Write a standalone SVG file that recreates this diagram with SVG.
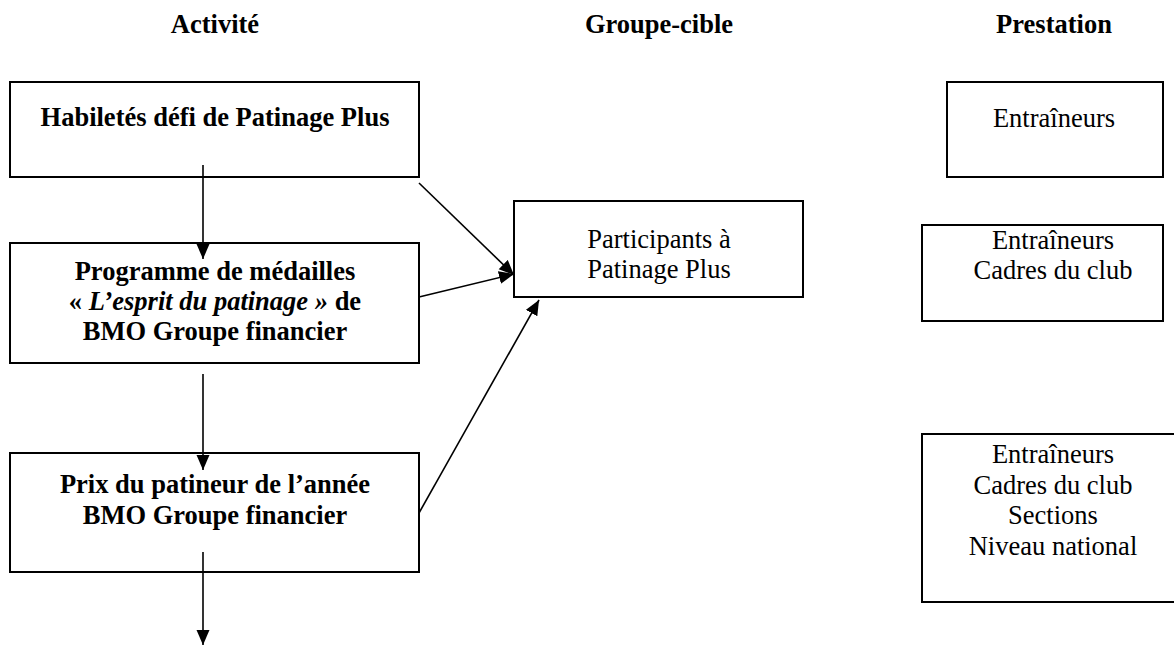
<svg xmlns="http://www.w3.org/2000/svg" width="1174" height="645" viewBox="0 0 1174 645">
<style>
  text { font-family: "Liberation Serif", "Times New Roman", serif; font-size: 26.5px; fill: #000; text-anchor: middle; }
  .b { font-weight: bold; }
  .i { font-style: italic; }
  .box { fill: #fff; stroke: #000; stroke-width: 2; }
  .conn line { stroke: #000; stroke-width: 1.6; marker-end: url(#arr); }
</style>
<defs>
  <marker id="arr" markerUnits="userSpaceOnUse" markerWidth="16" markerHeight="14" refX="15" refY="7" orient="auto">
    <path d="M0,0.5 L15,7 L0,13.5 z" fill="#000"/>
  </marker>
</defs>
<rect width="1174" height="645" fill="#fff"/>
<g id="headers">
  <text class="b" x="215" y="33">Activité</text>
  <text class="b" x="659" y="33">Groupe-cible</text>
  <text class="b" x="1054" y="33">Prestation</text>
</g>
<g id="n-habiletes">
  <rect class="box" x="10" y="82" width="409" height="95"/>
  <text class="b" x="215" y="126">Habiletés défi de Patinage Plus</text>
</g>
<g id="n-medailles">
  <rect class="box" x="10" y="243" width="409" height="120"/>
  <text class="b" x="215" y="280">Programme de médailles</text>
  <text class="b" x="215" y="310">« <tspan class="i">L’esprit du patinage »</tspan> de</text>
  <text class="b" x="215" y="340">BMO Groupe financier</text>
</g>
<g id="n-prix">
  <rect class="box" x="10" y="453" width="409" height="119"/>
  <text class="b" x="215" y="493">Prix du patineur de l’année</text>
  <text class="b" x="215" y="524">BMO Groupe financier</text>
</g>
<g id="n-participants">
  <rect class="box" x="514" y="201" width="289" height="96"/>
  <text x="659" y="248">Participants à</text>
  <text x="659" y="278">Patinage Plus</text>
</g>
<g id="p-1">
  <rect class="box" x="947" y="82" width="216" height="95"/>
  <text x="1054" y="127">Entraîneurs</text>
</g>
<g id="p-2">
  <rect class="box" x="922" y="225" width="241" height="96"/>
  <text x="1053" y="249">Entraîneurs</text>
  <text x="1053" y="279">Cadres du club</text>
</g>
<g id="p-3">
  <rect class="box" x="922" y="434" width="270" height="168"/>
  <text x="1053" y="463">Entraîneurs</text>
  <text x="1053" y="494">Cadres du club</text>
  <text x="1053" y="524">Sections</text>
  <text x="1053" y="555">Niveau national</text>
</g>
<g id="connectors" class="conn">
  <line x1="203" y1="165" x2="203" y2="259"/>
  <line x1="203" y1="374" x2="203" y2="470"/>
  <line x1="203" y1="552" x2="203" y2="645"/>
  <line x1="419" y1="183" x2="514" y2="275"/>
  <line x1="419" y1="297" x2="514" y2="274"/>
  <line x1="419" y1="513" x2="539" y2="300"/>
</g>
</svg>
